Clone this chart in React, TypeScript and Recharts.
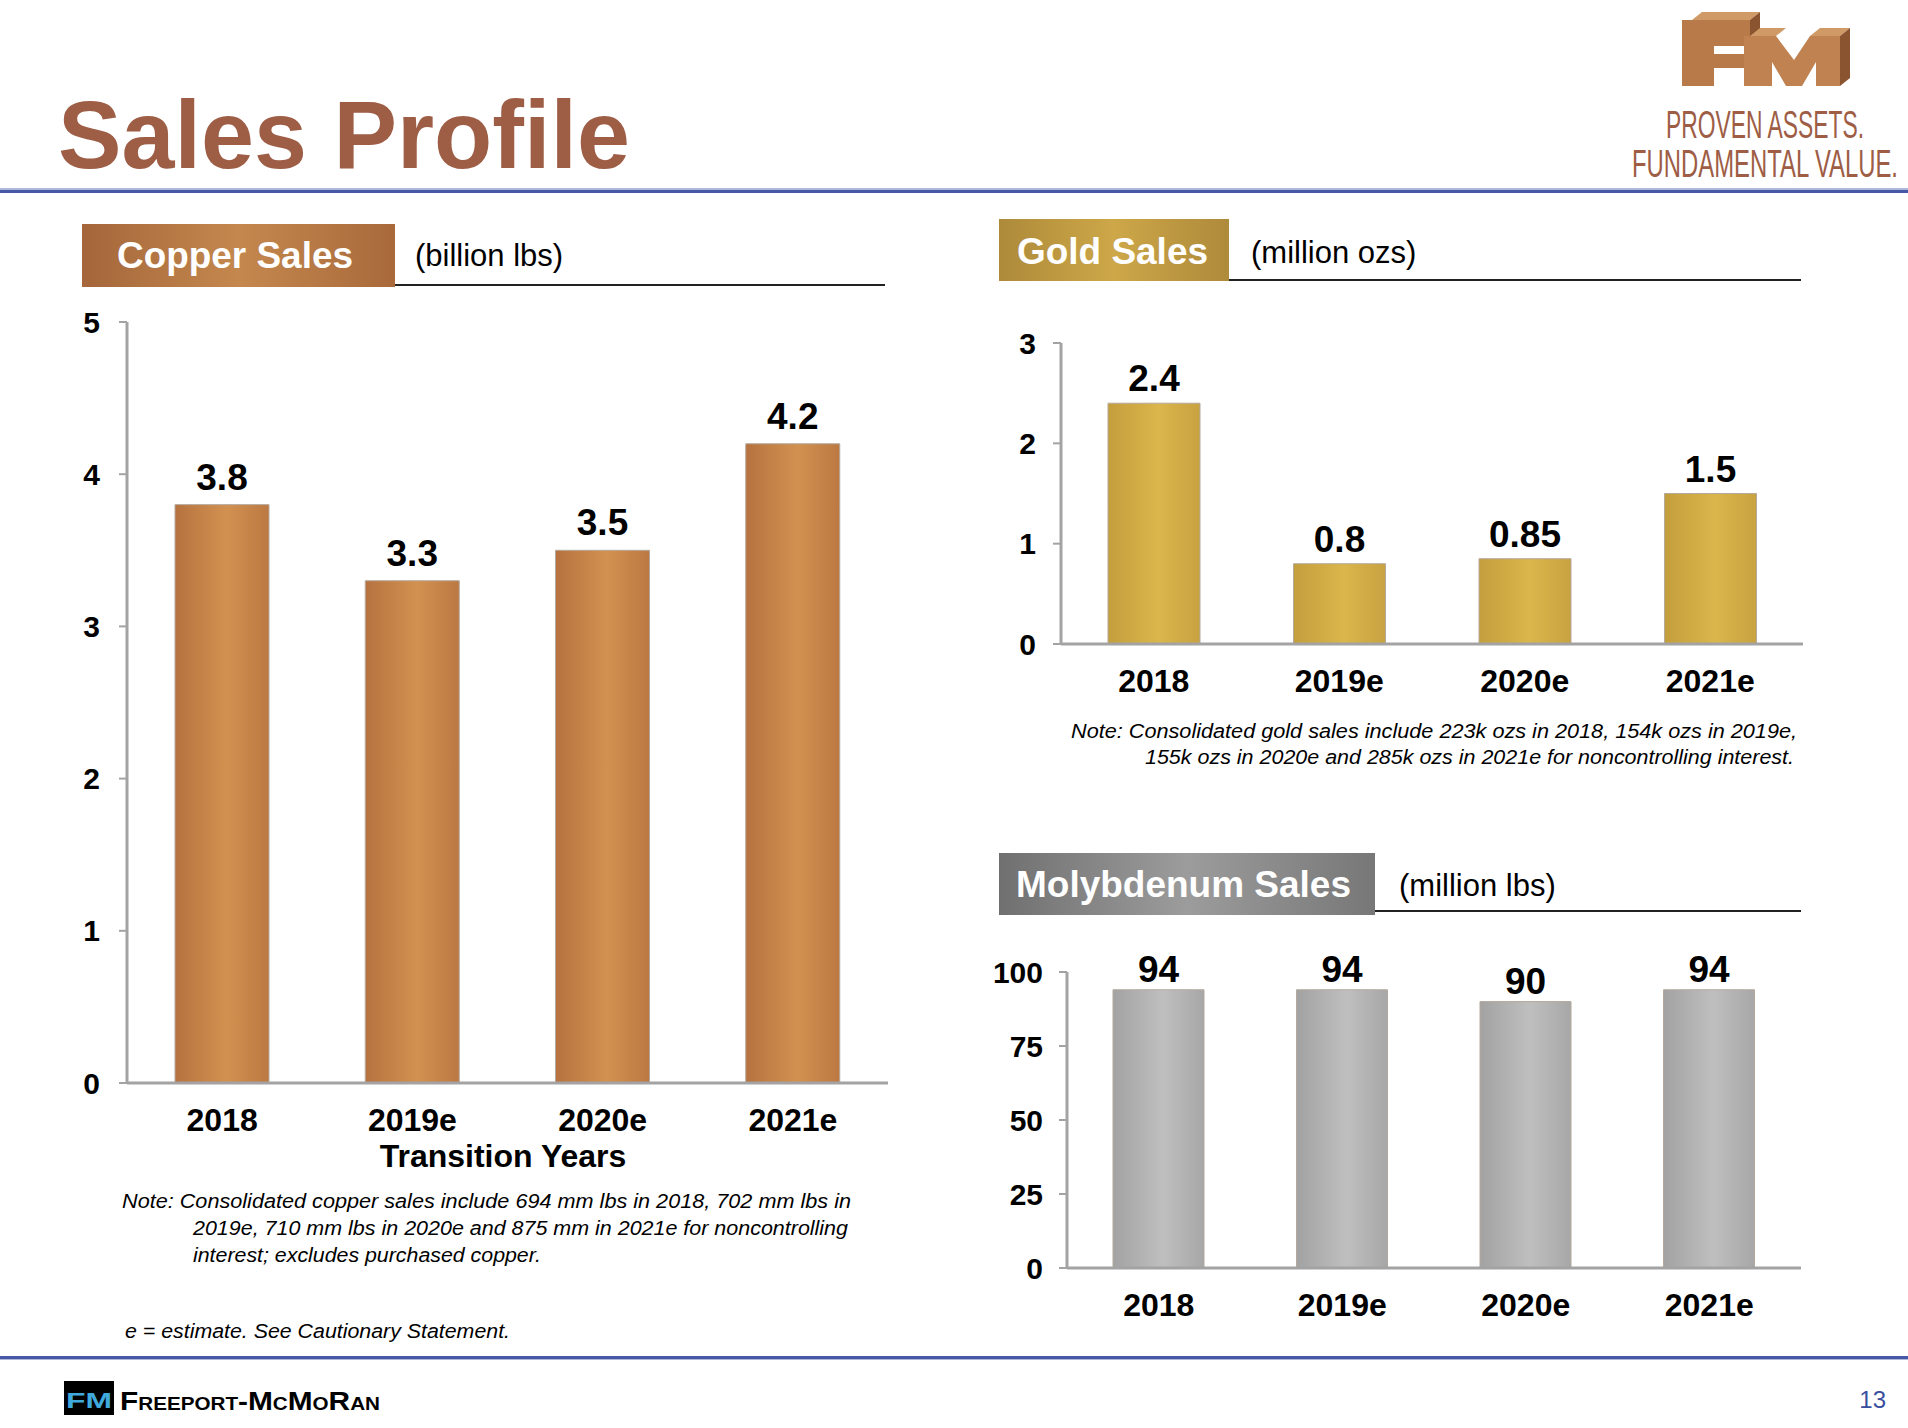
import { BarChart, Bar, XAxis, YAxis, LabelList } from 'recharts'

const years = ['2018', '2019e', '2020e', '2021e']
const copperValues = [3.8, 3.3, 3.5, 4.2]
const goldValues = [2.4, 0.8, 0.85, 1.5]
const molyValues = [94, 94, 90, 94]
const copperTicks = [0, 1, 2, 3, 4, 5]
const goldTicks = [0, 1, 2, 3]
const molyTicks = [0, 25, 50, 75, 100]

const copperData = years.map((year, i) => ({ year, value: copperValues[i] }))
const goldData = years.map((year, i) => ({ year, value: goldValues[i] }))
const molyData = years.map((year, i) => ({ year, value: molyValues[i] }))

const FONT = '"Liberation Sans", Arial, Helvetica, sans-serif'
const BROWN = '#9E5D45'
const AXIS = '#A3A3A3'

function XTick(props: any) {
  const { x, y, payload } = props
  return (
    <text x={x} y={y + 48} textAnchor="middle" fontSize={32} fontWeight={700} fontFamily={FONT} fill="#000">
      {payload.value}
    </text>
  )
}

function valueLabel(gap: number) {
  return (p: any) => (
    <text
      x={p.x + p.width / 2}
      y={p.y - gap}
      textAnchor="middle"
      fontSize={37}
      fontWeight={700}
      fontFamily={FONT}
      fill="#000"
    >
      {p.value}
    </text>
  )
}

const yTickStyle = { fontSize: 30, fontWeight: 700, fill: '#000', fontFamily: FONT }

interface PanelProps {
  data: { year: string; value: number }[]
  ticks: number[]
  width: number
  height: number
  margin: { top: number; right: number; bottom: number; left: number }
  yWidth: number
  tickMargin: number
  barSize: number
  fill: string
  labelGap: number
}

function Panel({ data, ticks, width, height, margin, yWidth, tickMargin, barSize, fill, labelGap }: PanelProps) {
  return (
    <BarChart width={width} height={height} data={data} margin={margin}>
      <XAxis
        dataKey="year"
        height={40}
        tickLine={false}
        tickSize={0}
        tickMargin={0}
        axisLine={{ stroke: AXIS, strokeWidth: 3 }}
        tick={<XTick />}
        interval={0}
      />
      <YAxis
        width={yWidth}
        domain={[ticks[0], ticks[ticks.length - 1]]}
        ticks={ticks}
        interval={0}
        tickSize={8}
        tickMargin={tickMargin}
        axisLine={{ stroke: AXIS, strokeWidth: 3 }}
        tickLine={{ stroke: AXIS, strokeWidth: 2 }}
        tick={yTickStyle}
      />
      <Bar dataKey="value" fill={fill} stroke="#B5A89C" strokeWidth={1} barSize={barSize} isAnimationActive={false}>
        <LabelList dataKey="value" content={valueLabel(labelGap)} />
      </Bar>
    </BarChart>
  )
}

// condensed tagline: squeeze horizontally so the box really is narrow
function Squeezed({ x, y, width, text }: { x: number; y: number; width: number; text: string }) {
  const k = 0.55
  return (
    <g transform={`translate(${x},${y}) scale(${k},1)`}>
      <text x={0} y={0} fontSize={38} fill={BROWN} textLength={width / k} lengthAdjust="spacingAndGlyphs">
        {text}
      </text>
    </g>
  )
}

function Overlay() {
  return (
    <svg width={1908} height={1428} style={{ position: 'absolute', left: 0, top: 0 }} fontFamily={FONT}>
      <defs>
        <linearGradient id="copperBar" x1="0" y1="0" x2="1" y2="0">
          <stop offset="0%" stopColor="#B6723F" />
          <stop offset="55%" stopColor="#D29150" />
          <stop offset="100%" stopColor="#BC7842" />
        </linearGradient>
        <linearGradient id="goldBar" x1="0" y1="0" x2="1" y2="0">
          <stop offset="0%" stopColor="#C39E3C" />
          <stop offset="55%" stopColor="#DBB64C" />
          <stop offset="100%" stopColor="#C7A240" />
        </linearGradient>
        <linearGradient id="molyBar" x1="0" y1="0" x2="1" y2="0">
          <stop offset="0%" stopColor="#A2A2A2" />
          <stop offset="55%" stopColor="#BFBFBF" />
          <stop offset="100%" stopColor="#A7A7A7" />
        </linearGradient>
        <linearGradient id="copperHead" x1="0" y1="0" x2="1" y2="0">
          <stop offset="0%" stopColor="#A4663A" />
          <stop offset="50%" stopColor="#C4884E" />
          <stop offset="100%" stopColor="#A9693B" />
        </linearGradient>
        <linearGradient id="goldHead" x1="0" y1="0" x2="1" y2="0">
          <stop offset="0%" stopColor="#AD8A3A" />
          <stop offset="50%" stopColor="#CDA748" />
          <stop offset="100%" stopColor="#AE8A3B" />
        </linearGradient>
        <linearGradient id="molyHead" x1="0" y1="0" x2="1" y2="0">
          <stop offset="0%" stopColor="#707070" />
          <stop offset="50%" stopColor="#9C9C9C" />
          <stop offset="100%" stopColor="#777777" />
        </linearGradient>
      </defs>

      {/* title + rule */}
      <text x={58} y={168} fontSize={96} fontWeight={700} fill={BROWN} textLength={572} lengthAdjust="spacingAndGlyphs">
        Sales Profile
      </text>
      <rect x={0} y={188} width={1908} height={2} fill="#AEB8DC" />
      <rect x={0} y={190} width={1908} height={3} fill="#4658A6" />

      {/* FM logo */}
      <g>
        <polygon points="1692,20 1750,20 1760,12 1702,12" fill="#D09A66" />
        <polygon points="1750,20 1760,12 1760,38 1750,46" fill="#8A5430" />
        <polygon points="1682,20 1750,20 1750,46 1714,46 1714,54 1744,54 1744,68 1714,68 1714,86 1682,86" fill="#B87A48" />
        <polygon points="1750,36 1776,36 1786,28 1760,28" fill="#D09A66" />
        <polygon points="1810,36 1840,36 1850,28 1820,28" fill="#D09A66" />
        <polygon points="1840,36 1850,28 1850,78 1840,86" fill="#8A5430" />
        <polygon points="1744,36 1776,36 1794,60 1810,36 1840,36 1840,86 1816,86 1816,62 1802,86 1786,86 1772,62 1772,86 1744,86" fill="#BF8250" />
      </g>
      <Squeezed x={1666} y={138} width={198} text="PROVEN ASSETS." />
      <Squeezed x={1632} y={177} width={266} text="FUNDAMENTAL VALUE." />

      {/* copper header */}
      <rect x={82} y={224} width={313} height={63} fill="url(#copperHead)" />
      <text x={117} y={268} fontSize={36} fontWeight={700} fill="#fff" textLength={236} lengthAdjust="spacingAndGlyphs">
        Copper Sales
      </text>
      <text x={415} y={266} fontSize={31} fill="#000">
        (billion lbs)
      </text>
      <rect x={395} y={284} width={490} height={2} fill="#222" />
      <text x={503} y={1167} fontSize={32} fontWeight={700} textAnchor="middle" fill="#000">
        Transition Years
      </text>
      <g fontSize={20} fontStyle="italic" fill="#000">
        <text x={122} y={1208} textLength={729} lengthAdjust="spacingAndGlyphs">
          Note:  Consolidated copper sales include 694 mm lbs in 2018, 702 mm lbs in
        </text>
        <text x={193} y={1235} textLength={655} lengthAdjust="spacingAndGlyphs">
          2019e, 710 mm lbs in 2020e and 875 mm in 2021e for noncontrolling
        </text>
        <text x={193} y={1262} textLength={348} lengthAdjust="spacingAndGlyphs">
          interest; excludes purchased copper.
        </text>
        <text x={125} y={1338} textLength={385} lengthAdjust="spacingAndGlyphs">
          e = estimate. See Cautionary Statement.
        </text>
      </g>

      {/* gold header */}
      <rect x={999} y={219} width={230} height={62} fill="url(#goldHead)" />
      <text x={1017} y={264} fontSize={36} fontWeight={700} fill="#fff" textLength={191} lengthAdjust="spacingAndGlyphs">
        Gold Sales
      </text>
      <text x={1251} y={263} fontSize={31} fill="#000">
        (million ozs)
      </text>
      <rect x={1229} y={279} width={572} height={2} fill="#222" />
      <g fontSize={20} fontStyle="italic" fill="#000">
        <text x={1071} y={738} textLength={726} lengthAdjust="spacingAndGlyphs">
          Note:  Consolidated gold sales include 223k ozs in 2018, 154k ozs in 2019e,
        </text>
        <text x={1145} y={764} textLength={649} lengthAdjust="spacingAndGlyphs">
          155k ozs in 2020e and 285k ozs in 2021e for noncontrolling interest.
        </text>
      </g>

      {/* moly header */}
      <rect x={999} y={853} width={376} height={62} fill="url(#molyHead)" />
      <text x={1016} y={897} fontSize={36} fontWeight={700} fill="#fff" textLength={335} lengthAdjust="spacingAndGlyphs">
        Molybdenum Sales
      </text>
      <text x={1399} y={896} fontSize={31} fill="#000">
        (million lbs)
      </text>
      <rect x={1375} y={910} width={426} height={2} fill="#222" />

      {/* footer */}
      <rect x={0} y={1356} width={1908} height={3} fill="#4658A6" />
      <rect x={0} y={1359} width={1908} height={1} fill="#AEB8DC" />
      <rect x={64} y={1381} width={50} height={34} fill="#000" />
      <text x={66} y={1408} fontSize={22} fontWeight={700} fill="#3FA9DC" textLength={46} lengthAdjust="spacingAndGlyphs">
        FM
      </text>
      <text x={120} y={1410} fontSize={26} fontWeight={700} fill="#000" textLength={260} lengthAdjust="spacingAndGlyphs" style={{ fontVariant: 'small-caps' }}>
        Freeport-McMoRan
      </text>
      <text x={1886} y={1408} fontSize={24} fill="#3A4EA0" textAnchor="end">
        13
      </text>
    </svg>
  )
}

export default function App() {
  return (
    <div style={{ position: 'absolute', left: 0, top: 0, width: 1908, height: 1428, background: '#fff', fontFamily: FONT }}>
      <Overlay />
      <div style={{ position: 'absolute', left: 0, top: 240 }}>
        <Panel
          data={copperData}
          ticks={copperTicks}
          width={920}
          height={1000}
          margin={{ top: 82, right: 32, bottom: 117, left: 67 }}
          yWidth={60}
          tickMargin={19}
          barSize={94}
          fill="url(#copperBar)"
          labelGap={15}
        />
      </div>
      <div style={{ position: 'absolute', left: 980, top: 300 }}>
        <Panel
          data={goldData}
          ticks={goldTicks}
          width={840}
          height={420}
          margin={{ top: 43, right: 17, bottom: 36, left: 31 }}
          yWidth={50}
          tickMargin={17}
          barSize={92}
          fill="url(#goldBar)"
          labelGap={12}
        />
      </div>
      <div style={{ position: 'absolute', left: 980, top: 930 }}>
        <Panel
          data={molyData}
          ticks={molyTicks}
          width={840}
          height={400}
          margin={{ top: 42, right: 19, bottom: 22, left: 27 }}
          yWidth={60}
          tickMargin={16}
          barSize={91}
          fill="url(#molyBar)"
          labelGap={8}
        />
      </div>
    </div>
  )
}
